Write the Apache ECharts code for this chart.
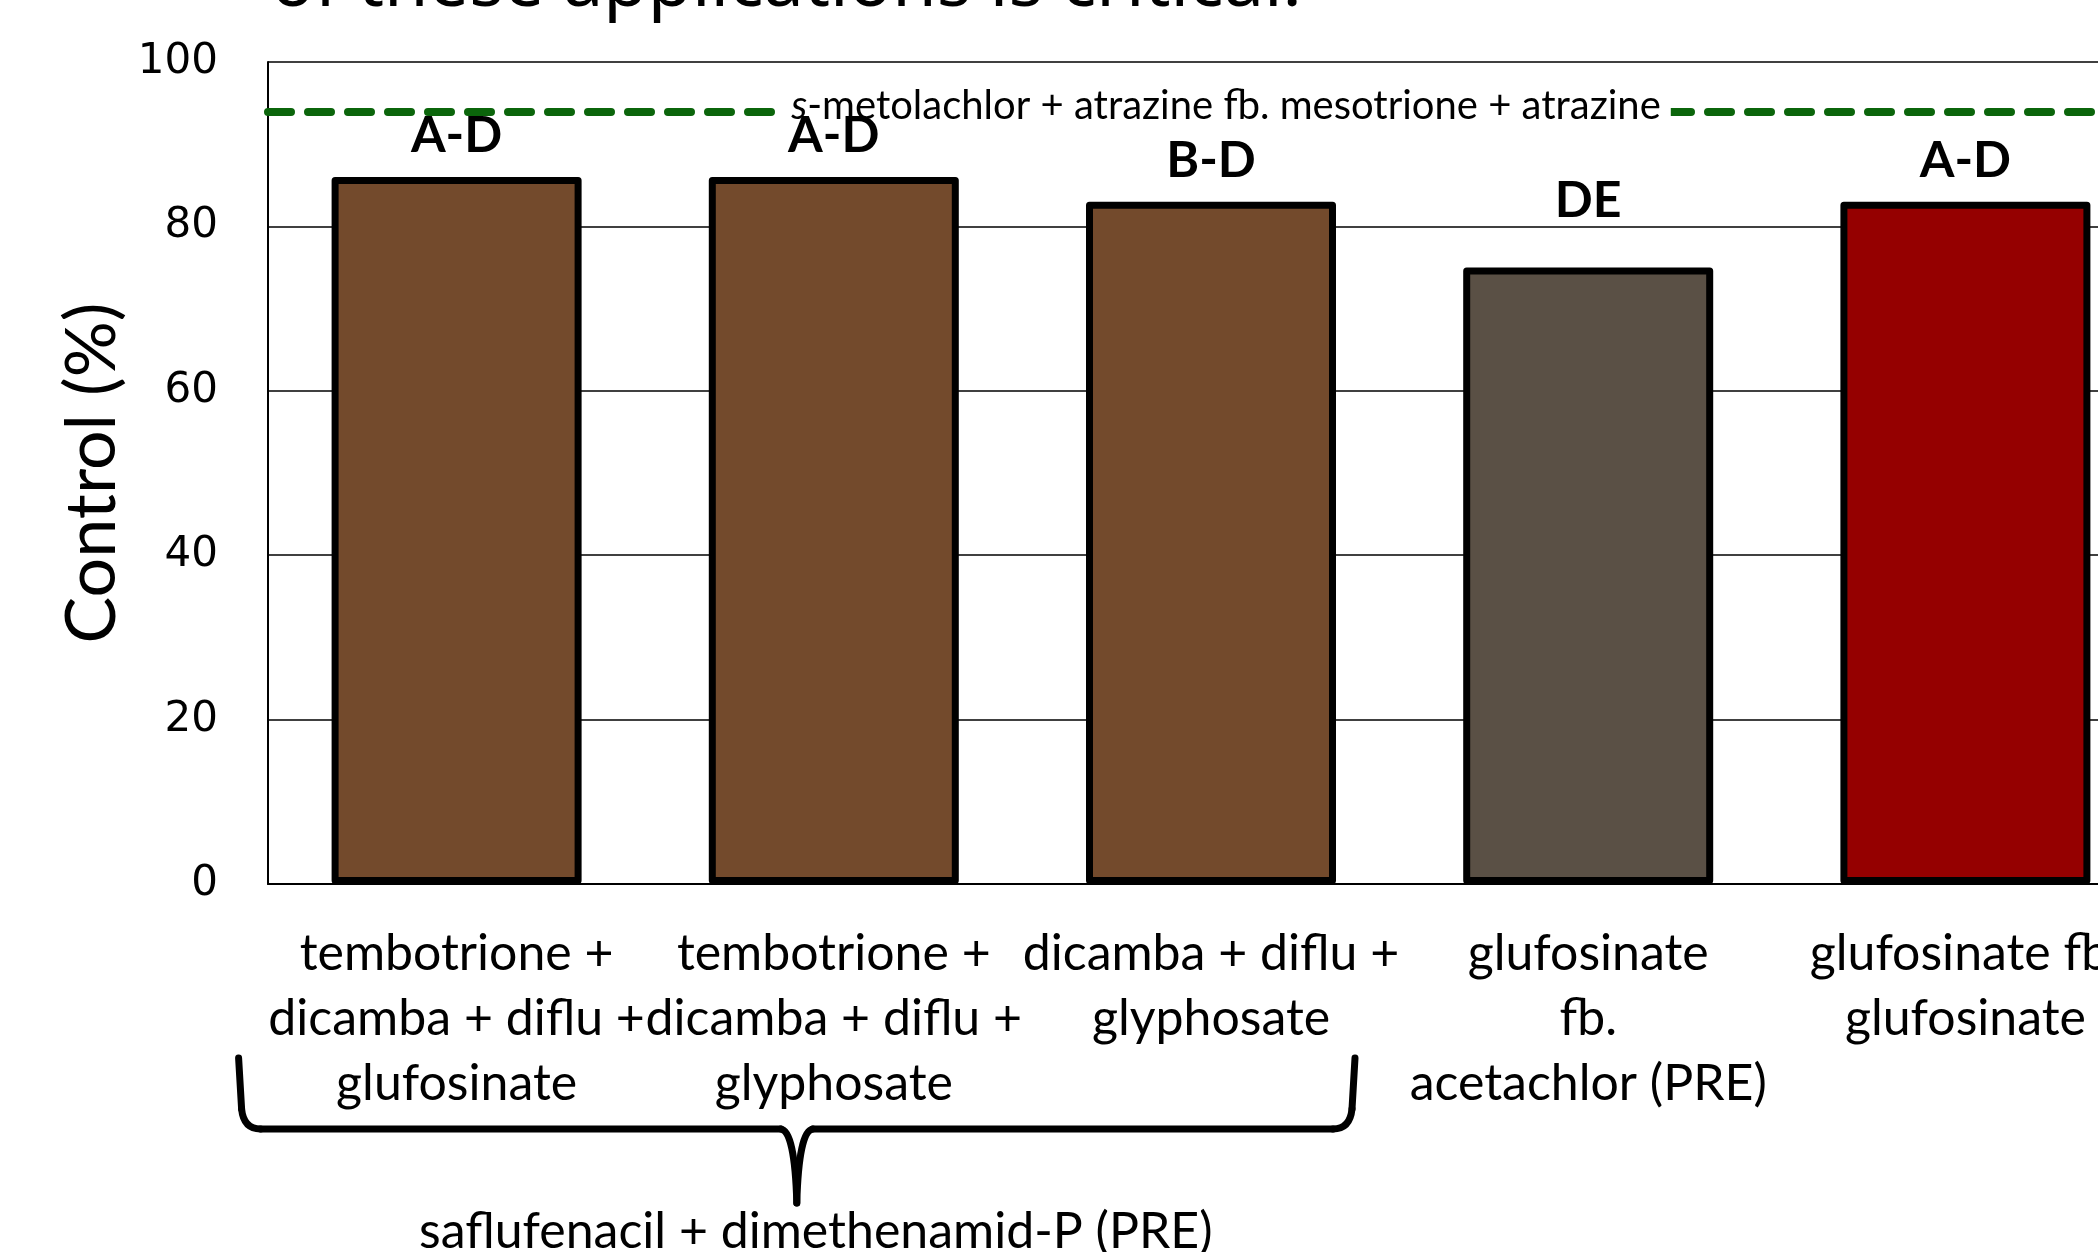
<!DOCTYPE html>
<html lang="en">
<head>
<meta charset="UTF-8">
<title>Control (%)</title>
<script src="https://cdn.jsdelivr.net/npm/echarts@6/dist/echarts.min.js"></script>
<style>
html, body { margin: 0; padding: 0; background: #fff; overflow: hidden; }
/* the plot runs past the right edge of the slide, so the chart is wider than the window */
#main { width: 2154px; height: 1252px; }
</style>
</head>
<body>
<div id="main"></div>
<script type="text/javascript">
// data
var treatments = [
    'tembotrione +\ndicamba + diflu +\nglufosinate',
    'tembotrione +\ndicamba + diflu +\nglyphosate',
    'dicamba + diflu +\nglyphosate',
    'glufosinate\nfb.\nacetachlor (PRE)',
    'glufosinate fb.\nglufosinate'
];
var control = [86, 86, 83, 75, 83];
var letters = ['A-D', 'A-D', 'B-D', 'DE', 'A-D'];
var checkValue = 94;
var checkName = 's-metolachlor + atrazine fb. mesotrione + atrazine';
var groupName = 'saflufenacil + dimethenamid-P (PRE)';
var titleText = 'of these applications is critical.';

var barColors = ['#734A2C', '#734A2C', '#734A2C', '#5A5045', '#950000'];
var calibri = 'Lato, "Noto Sans", sans-serif';

var myChart = echarts.init(document.getElementById('main'));

var option = {
    animation: false,
    grid: { left: 268, right: 0, top: 62, bottom: 368 },
    xAxis: {
        type: 'category',
        data: treatments,
        axisTick: { show: false },
        axisLine: { lineStyle: { color: '#000', width: 2 } },
        axisLabel: {
            interval: 0, margin: 37, color: '#000',
            fontFamily: calibri, fontSize: 50, lineHeight: 65
        }
    },
    yAxis: {
        type: 'value', min: 0, max: 100, interval: 20,
        name: 'Control (%)', nameLocation: 'middle', nameRotate: 90, nameGap: 122,
        nameTextStyle: { fontFamily: calibri, fontSize: 70, color: '#000' },
        axisLine: { show: true, lineStyle: { color: '#000', width: 2 } },
        axisTick: { show: false },
        axisLabel: { margin: 50, color: '#000', fontFamily: 'Verdana, "DejaVu Sans"', fontSize: 42 },
        splitLine: { lineStyle: { color: '#000', width: 1.5 } }
    },
    series: [
        {
            // check treatment drawn as a dashed reference line, under the letters
            type: 'line',
            z: 1,
            data: [],
            markLine: {
                z: 1,
                silent: true,
                symbol: ['none', 'none'],
                lineStyle: { color: '#0B650B', width: 8, type: [23, 17], cap: 'round' },
                label: {
                    show: true, position: 'middle', distance: -17, offset: [15, 0],
                    formatter: function () { return '{it|s}' + checkName.slice(1); },
                    backgroundColor: '#fff', padding: [2, 10],
                    color: '#000', fontFamily: calibri, fontSize: 40,
                    rich: { it: { fontStyle: 'italic', fontFamily: calibri, fontSize: 40, color: '#000' } }
                },
                data: [{ yAxis: checkValue }]
            }
        },
        {
            type: 'bar',
            z: 3,
            barWidth: 250,
            data: control.map(function (v, i) {
                return {
                    value: v,
                    itemStyle: { color: barColors[i] },
                    // the DE letter sits higher above its bar in the source
                    label: { formatter: letters[i], distance: letters[i] === 'DE' ? 42 : 16 }
                };
            }),
            itemStyle: { borderColor: '#000', borderWidth: 7, borderJoin: 'round' },
            label: {
                show: true, position: 'top', color: '#000',
                fontFamily: calibri, fontWeight: 'bold', fontSize: 50
            }
        }
    ]
};
myChart.setOption(option);

// title strip cut off at the top, brace under the first three treatments
var c0 = myChart.convertToPixel({ xAxisIndex: 0 }, 0);
var c2 = myChart.convertToPixel({ xAxisIndex: 0 }, 2);
var y0 = myChart.convertToPixel({ yAxisIndex: 0 }, 0);
var bl = c0 - 218, br = c2 + 144, bm = (bl + br) / 2;
var bt = y0 + 174, bh = y0 + 245, tip = y0 + 319;

function braceStyle() {
    return { stroke: '#000', lineWidth: 7, lineCap: 'round', fill: null };
}
function seg(x1, y1, x2, y2) {
    return { type: 'line', shape: { x1: x1, y1: y1, x2: x2, y2: y2 }, style: braceStyle() };
}
function curve(x1, y1, cx, cy, x2, y2) {
    return { type: 'bezierCurve', shape: { x1: x1, y1: y1, cpx1: cx, cpy1: cy, x2: x2, y2: y2 }, style: braceStyle() };
}

myChart.setOption({
    graphic: [
        {
            type: 'text', x: 271, y: -15,
            style: {
                text: titleText, fill: '#000',
                font: '72px "Noto Sans"', textAlign: 'left', textVerticalAlign: 'middle'
            }
        },
        seg(bl, bt, bl + 3, bh - 20),
        curve(bl + 3, bh - 20, bl + 5, bh, bl + 22, bh),
        seg(bl + 22, bh, bm - 16, bh),
        curve(bm - 16, bh, bm - 2, bh + 2, bm, tip),
        curve(bm, tip, bm + 2, bh + 2, bm + 16, bh),
        seg(bm + 16, bh, br - 22, bh),
        curve(br - 22, bh, br - 5, bh, br - 3, bh - 20),
        seg(br - 3, bh - 20, br, bt),
        {
            type: 'text', x: bm + 19, y: tip + 29,
            style: {
                text: groupName, fill: '#000',
                font: '50px Lato, "Noto Sans", sans-serif', textAlign: 'center', textVerticalAlign: 'middle'
            }
        }
    ]
});
</script>
</body>
</html>
